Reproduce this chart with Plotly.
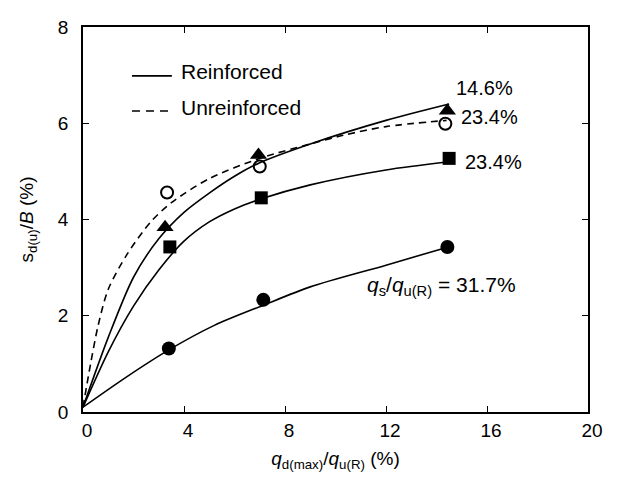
import plotly.graph_objects as go

# Measured points
x_r317 = [3.40, 7.14, 14.43]
y_r317 = [1.32, 2.33, 3.43]
x_r234 = [3.44, 7.06, 14.50]
y_r234 = [3.43, 4.45, 5.27]
x_r146 = [3.25, 6.95, 14.43]
y_r146 = [3.84, 5.34, 6.26]
x_u234 = [3.33, 7.00, 14.35]
y_u234 = [4.56, 5.10, 5.99]

# Fitted curves
cx_r317 = [0.0, 1.7, 3.4, 5.2, 7.15, 9.0, 12.0, 14.4]
cy_r317 = [0.1, 0.72, 1.29, 1.8, 2.22, 2.6, 3.05, 3.42]
cx_r234 = [0.0, 1.0, 2.0, 3.0, 4.0, 5.0, 6.0, 7.0, 9.0, 12.0, 14.5]
cy_r234 = [0.1, 1.25, 2.2, 2.95, 3.55, 3.95, 4.22, 4.42, 4.72, 5.03, 5.2]
cx_r146 = [0.0, 1.0, 2.0, 3.0, 4.0, 5.0, 6.0, 7.0, 9.0, 12.0, 14.5]
cy_r146 = [0.1, 1.55, 2.8, 3.6, 4.15, 4.55, 4.9, 5.18, 5.57, 6.06, 6.4]
cx_u = [0.0, 0.3, 0.6, 1.0, 1.75, 2.68, 3.5, 5.0, 7.0, 9.0, 10.3, 12.0, 14.4]
cy_u = [0.1, 1.0, 1.8, 2.55, 3.28, 3.95, 4.35, 4.85, 5.27, 5.57, 5.75, 5.93, 6.06]

x_ticks = [0, 4, 8, 12, 16, 20]
y_ticks = [0, 2, 4, 6, 8]

FONT = "Liberation Sans, Arial, sans-serif"
fig = go.Figure()

def curve(x, y, dash="solid"):
    fig.add_trace(go.Scatter(x=x, y=y, mode="lines",
                             line=dict(color="black", width=1.6, dash=dash, shape="spline", smoothing=0.8),
                             showlegend=False, hoverinfo="skip"))

curve(cx_u, cy_u, dash="7px,5px")
curve(cx_r146, cy_r146)
curve(cx_r234, cy_r234)
curve(cx_r317, cy_r317)

def pts(x, y, sym, size, color="black", line=None):
    fig.add_trace(go.Scatter(x=x, y=y, mode="markers",
                             marker=dict(symbol=sym, size=size, color=color, line=line or dict(width=0)),
                             showlegend=False))

pts(x_r317, y_r317, "circle", 14)
pts(x_r234, y_r234, "square", 13)
pts(x_r146, y_r146, "triangle-up", 15)
pts(x_u234, y_u234, "circle-open", 12, line=dict(color="black", width=2))

# Legend drawn inside the plot
fig.add_shape(type="line", xref="paper", yref="paper", x0=0.097, x1=0.176, y0=0.873, y1=0.873,
              line=dict(color="black", width=1.6))
fig.add_shape(type="line", xref="paper", yref="paper", x0=0.097, x1=0.176, y0=0.782, y1=0.782,
              line=dict(color="black", width=1.6, dash="8px,6px"))
leg = dict(xref="paper", yref="paper", showarrow=False, xanchor="left", yanchor="middle",
           font=dict(size=21, family=FONT, color="black"))
fig.add_annotation(x=0.190, y=0.885, text="Reinforced", **leg)
fig.add_annotation(x=0.190, y=0.79, text="Unreinforced", **leg)

lab = dict(showarrow=False, font=dict(size=20, family=FONT, color="black"), xanchor="left", yanchor="middle")
fig.add_annotation(x=14.7, y=6.74, text="14.6%", **lab)
fig.add_annotation(x=14.9, y=6.13, text="23.4%", **lab)
fig.add_annotation(x=15.05, y=5.2, text="23.4%", **lab)
fig.add_annotation(x=11.15, y=2.62, text="<i>q</i><sub>s</sub>/<i>q</i><sub>u(R)</sub> = 31.7%",
                   showarrow=False, font=dict(size=21, family=FONT, color="black"), xanchor="left", yanchor="middle")

axis_common = dict(showline=True, linecolor="black", linewidth=1.5, mirror="ticks", ticks="inside",
                   ticklen=6, tickwidth=1.3, tickcolor="black", showgrid=False, zeroline=False,
                   tickfont=dict(size=19, family=FONT, color="black"))
fig.update_xaxes(range=[0, 20], tickvals=x_ticks, ticktext=[str(v) for v in x_ticks],
                 ticklabelstandoff=0, ticklabelshift=4,
                 title=dict(text="<i>q</i><sub>d(max)</sub>/<i>q</i><sub>u(R)</sub> (%)",
                            font=dict(size=19, family=FONT, color="black"), standoff=12),
                 **axis_common)
fig.update_yaxes(range=[0, 8], tickvals=y_ticks, ticktext=[str(v) for v in y_ticks],
                 ticklabelstandoff=9,
                 title=dict(text="s<sub>d(u)</sub>/<i>B</i> (%)",
                            font=dict(size=19, family=FONT, color="black"), standoff=19),
                 **axis_common)

# The page body adds an 8 px margin, so the figure is sized and offset to compensate
fig.update_layout(width=604, height=469, margin=dict(l=75, r=23, t=9, b=65),
                  paper_bgcolor="white", plot_bgcolor="white", showlegend=False)

fig.write_html("out.html")
